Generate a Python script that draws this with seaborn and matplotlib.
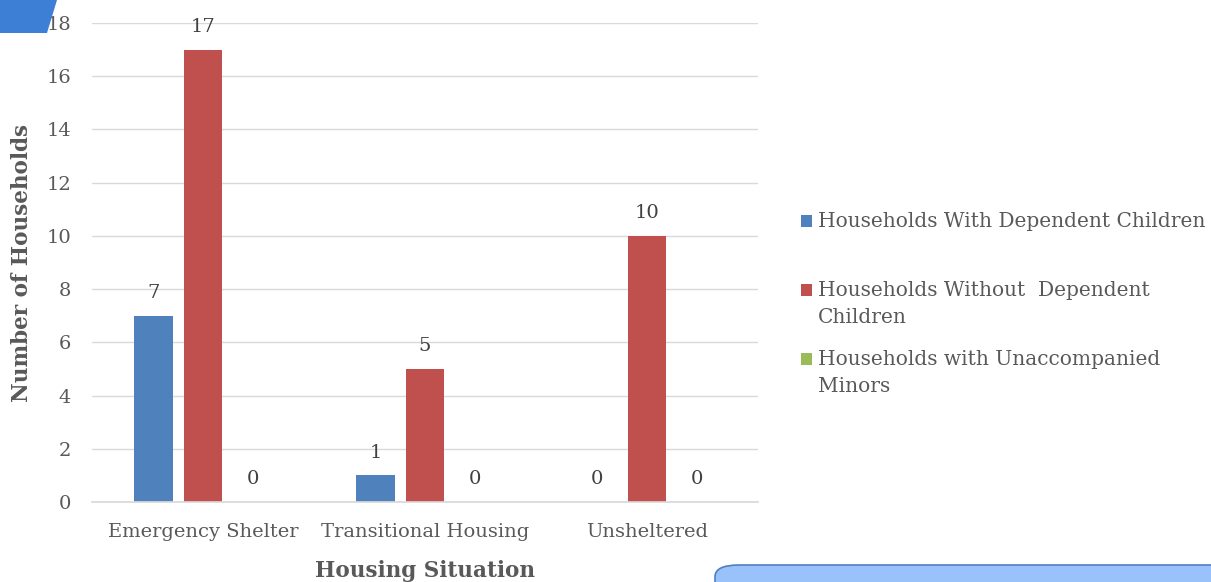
import pandas as pd
import numpy as np
import seaborn as sns
import matplotlib.pyplot as plt
from matplotlib.patches import Polygon, FancyBboxPatch

# Data
situations = ["Emergency Shelter", "Transitional Housing", "Unsheltered"]
with_children = [7, 1, 0]
without_children = [17, 5, 10]
unaccompanied_minors = [0, 0, 0]
series_names = ["Households With Dependent Children\n",
                "Households Without  Dependent\nChildren",
                "Households with Unaccompanied\nMinors"]
y_ticks = [0, 2, 4, 6, 8, 10, 12, 14, 16, 18]

rows = []
for i, s in enumerate(situations):
    rows.append([s, with_children[i], series_names[0]])
    rows.append([s, without_children[i], series_names[1]])
    rows.append([s, unaccompanied_minors[i], series_names[2]])
df = pd.DataFrame(rows, columns=["situation", "count", "series"])

sns.set_theme(style="white")
plt.rcParams['font.family'] = ['DejaVu Serif']
text_color = "#595959"

W, H = 1211, 582
fig = plt.figure(figsize=(W / 100, H / 100), dpi=100)
ax = fig.add_axes([92 / W, 80 / H, 666 / W, 479 / H])

palette = ["#4F81BD", "#C0504D", "#9BBB59"]
sns.barplot(data=df, x="situation", y="count", hue="series", palette=palette,
            width=0.67, gap=0.23, ax=ax, legend=True, saturation=1, linewidth=0)

for c in ax.containers:
    ax.bar_label(c, padding=10, fontsize=14, color="#404040")

ax.set_ylim(0, 18)
ax.set_yticks(y_ticks)
ax.yaxis.grid(True, color="#D9D9D9", linewidth=1)
ax.set_axisbelow(True)
for sp in ["top", "right", "left"]:
    ax.spines[sp].set_visible(False)
ax.spines["bottom"].set_color("#D9D9D9")
ax.tick_params(axis="y", length=0, labelsize=14, colors=text_color, pad=15)
ax.tick_params(axis="x", length=0, labelsize=14, colors=text_color, pad=15)

ax.set_ylabel("Number of Households", fontsize=15.5, fontweight="bold", color=text_color, labelpad=9.5)
ax.set_xlabel("Housing Situation", fontsize=15.5, fontweight="bold", color=text_color, labelpad=14)

leg = ax.legend(loc="upper left", bbox_to_anchor=(791 / W, 1 - 202 / H), bbox_transform=fig.transFigure,
                frameon=False, fontsize=14.5, handlelength=0.55, handleheight=0.55,
                handletextpad=0.3, labelspacing=1.12, labelcolor=text_color, borderpad=0)
for t in leg.get_texts():
    t.set_linespacing(1.55)
# put the colour squares beside the first line of each entry
for p in leg.get_patches():
    p.set_y(p.get_y() + 10.5)

# decorative shapes from the source document
tl = Polygon([(0, 1), (57 / W, 1), (47 / W, 1 - 33 / H), (0, 1 - 33 / H)],
             closed=True, transform=fig.transFigure, facecolor="#3E7FD6",
             edgecolor="none", zorder=5)
fig.patches.append(tl)
br = FancyBboxPatch((715 / W, -0.1), 0.5, (H - 565) / H + 0.1,
                    boxstyle="round,pad=0,rounding_size=0.02", transform=fig.transFigure,
                    facecolor="#99C2FA", edgecolor="#4F7FC4", linewidth=1.2, zorder=5)
fig.patches.append(br)

fig.savefig("out.png", dpi=100)
